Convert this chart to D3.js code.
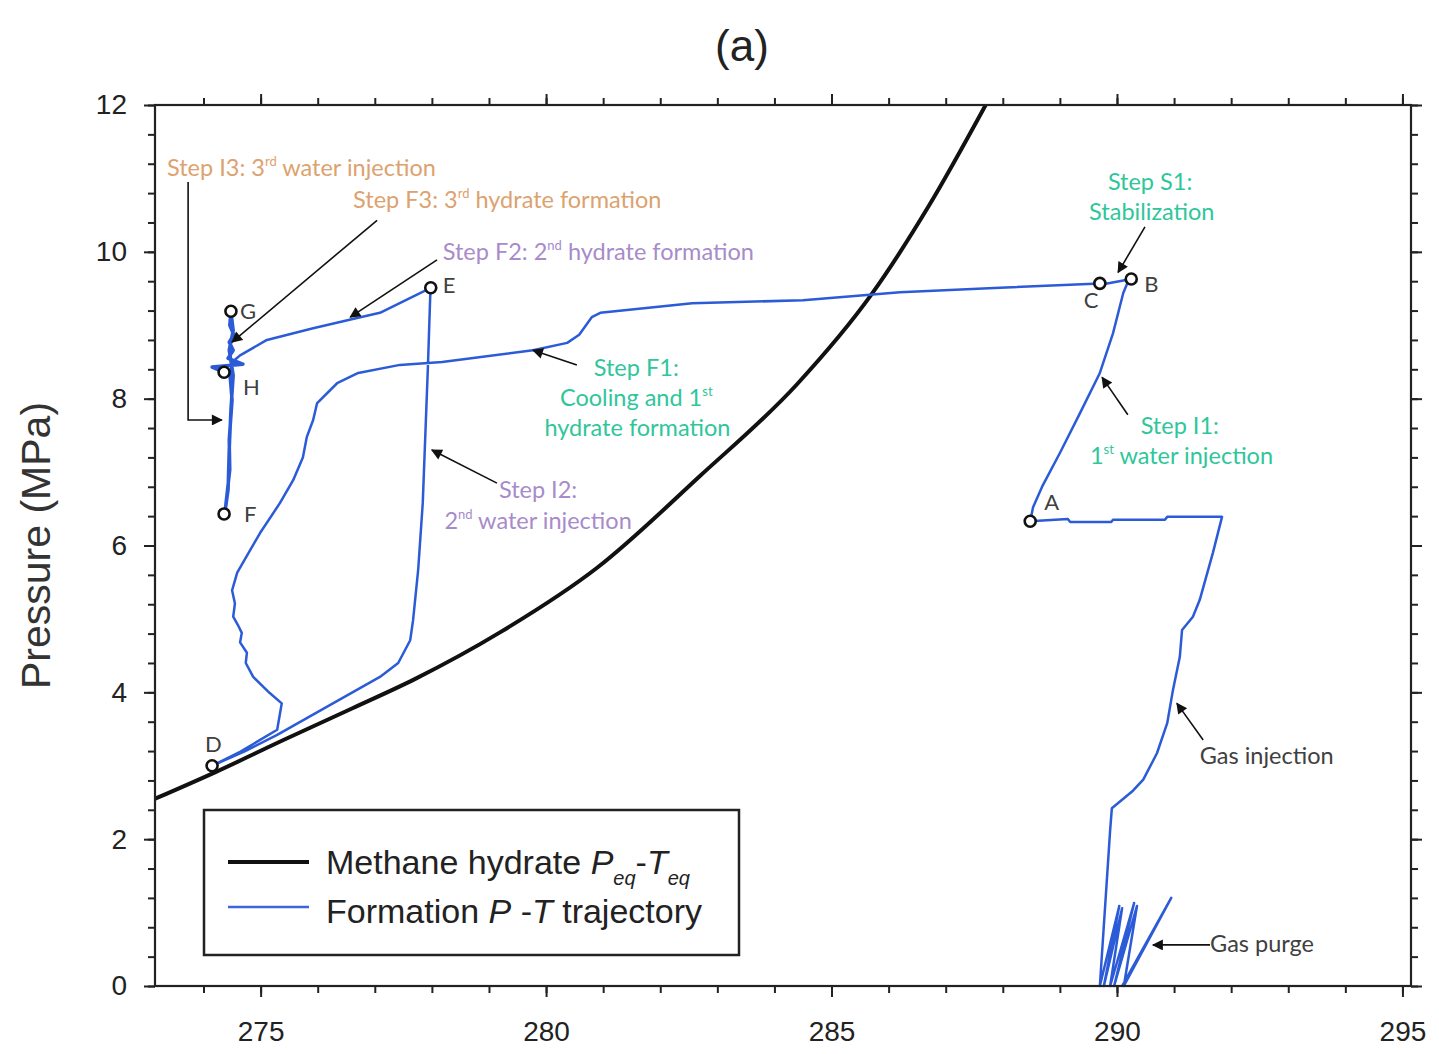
<!DOCTYPE html>
<html>
<head>
<meta charset="utf-8">
<script src="https://cdn.jsdelivr.net/npm/d3@7/dist/d3.min.js"></script>
<style>
  body { margin: 0; background: #fff; }
</style>
</head>
<body>
<div id="chart"></div>
<script>
// Methane hydrate equilibrium curve (K, MPa)
const eqT = [273.15, 274.2, 275.4, 276.6, 277.7, 279.2, 280.9, 282.7, 284.4, 285.7, 286.7, 287.7]
const eqP = [2.55, 2.91, 3.35, 3.78, 4.18, 4.82, 5.70, 6.95, 8.20, 9.42, 10.62, 12.0]

// Formation P-T trajectory, one small array per step
const purgeT = [290.09, 290.95, 290.12, 290.35, 289.95, 290.30, 289.88, 290.09, 289.77, 290.04, 289.70]
const purgeP = [0, 1.20, 0, 1.09, 0, 1.13, 0, 1.06, 0, 1.09, 0]

const gasInjT = [289.88, 289.91, 290.28, 290.46, 290.70, 290.88, 290.98, 291.10, 291.14, 291.33, 291.45, 291.68, 291.84]
const gasInjP = [2.12, 2.42, 2.66, 2.81, 3.17, 3.58, 4.03, 4.48, 4.85, 5.03, 5.26, 5.90, 6.39]

const backT = [290.88, 290.84, 289.93, 289.90, 289.18, 289.14, 288.48]
const backP = [6.39, 6.35, 6.35, 6.32, 6.32, 6.36, 6.33]

const i1T = [288.53, 288.70, 289.00, 289.35, 289.70, 289.93, 290.11, 290.19, 290.25]
const i1P = [6.52, 6.82, 7.26, 7.80, 8.35, 8.89, 9.44, 9.59, 9.63]

const s1T = [289.83, 289.70]
const s1P = [9.57, 9.57]

const f1T = [287.95, 286.20, 284.50, 282.56, 280.95, 280.80, 280.58, 280.37, 279.77, 278.18, 277.44, 276.71, 276.34, 275.99,
  275.92, 275.81, 275.74, 275.57, 275.34, 274.99, 274.59, 274.50, 274.55, 274.52, 274.60, 274.67, 274.64, 274.76, 274.74,
  274.87, 275.16, 275.37, 275.29, 274.64, 274.15]
const f1P = [9.51, 9.45, 9.34, 9.30, 9.17, 9.11, 8.87, 8.76, 8.66, 8.50, 8.46, 8.35, 8.21, 7.94,
  7.71, 7.48, 7.20, 6.89, 6.58, 6.17, 5.63, 5.39, 5.21, 5.03, 4.92, 4.81, 4.68, 4.54, 4.40,
  4.21, 3.99, 3.85, 3.49, 3.19, 3.00]

const i2T = [274.73, 275.29, 276.22, 277.09, 277.41, 277.62, 277.67, 277.76, 277.84, 277.93, 277.97, 277.98]
const i2P = [3.20, 3.42, 3.83, 4.21, 4.40, 4.71, 4.98, 5.67, 6.58, 8.43, 9.38, 9.51]

const f2T = [277.09, 276.69, 275.92, 275.11, 274.64, 274.55]
const f2P = [9.17, 9.10, 8.96, 8.80, 8.59, 8.53]

const f3T = [274.46, 274.50, 274.45, 274.46, 274.41, 274.38, 274.43, 274.45, 274.48, 274.52, 274.45, 274.52, 274.48,
  274.46, 274.53, 274.45, 274.52, 274.43, 274.69, 274.15, 274.36]
const f3P = [8.36, 7.98, 7.44, 7.03, 6.69, 6.48, 6.76, 7.30, 7.85, 8.32, 8.66, 8.93, 9.18,
  9.00, 8.87, 8.77, 8.66, 8.55, 8.47, 8.43, 8.36]

// labelled states
const pointNames = ['A', 'B', 'C', 'D', 'E', 'F', 'G', 'H']
const pointT = [288.48, 290.25, 289.70, 274.15, 277.98, 274.36, 274.48, 274.36]
const pointP = [6.33, 9.63, 9.57, 3.00, 9.51, 6.43, 9.19, 8.36]

const xTicks = [275, 280, 285, 290, 295]
const yTicks = [0, 2, 4, 6, 8, 10, 12]

const margin = { top: 105, left: 155, right: 28, bottom: 68 }
const width = 1439 - margin.left - margin.right
const height = 1054 - margin.top - margin.bottom

const blue = '#2b5bd7'
const tan = '#dca26f'
const purple = '#a78bca'
const green = '#2fc69b'
const grey = '#404040'

const svg = d3
  .select('#chart')
  .append('svg')
  .attr('width', width + margin.left + margin.right)
  .attr('height', height + margin.top + margin.bottom)
  .append('g')
  .attr('transform', 'translate(' + margin.left + ',' + margin.top + ')')

const xPositionScale = d3.scaleLinear().domain([273.15, 295.15]).range([0, width])
const yPositionScale = d3.scaleLinear().domain([0, 12]).range([height, 0])

svg.append('defs')
  .append('clipPath')
  .attr('id', 'plot-clip')
  .append('rect')
  .attr('width', width)
  .attr('height', height)

const arrowHead = svg.select('defs')
  .append('marker')
  .attr('id', 'head')
  .attr('viewBox', '0 0 10 10')
  .attr('refX', 9)
  .attr('refY', 5)
  .attr('markerWidth', 15)
  .attr('markerHeight', 11)
  .attr('markerUnits', 'userSpaceOnUse')
  .attr('orient', 'auto')
arrowHead.append('path').attr('d', 'M0,0 L10,5 L0,10 z').attr('fill', '#111')

const line = d3
  .line()
  .x(d => xPositionScale(d[0]))
  .y(d => yPositionScale(d[1]))

const zip = (ts, ps) => ts.map((t, i) => [t, ps[i]])

// equilibrium curve
svg.append('path')
  .datum(zip(eqT, eqP))
  .attr('clip-path', 'url(#plot-clip)')
  .attr('fill', 'none')
  .attr('stroke', '#111')
  .attr('stroke-width', 4)
  .attr('d', line.curve(d3.curveMonotoneX))

line.curve(d3.curveLinear)

// trajectory
const trajectory = [].concat(
  zip(purgeT, purgeP),
  zip(gasInjT, gasInjP),
  zip(backT, backP),
  zip(i1T, i1P),
  zip(s1T, s1P),
  zip(f1T, f1P),
  zip(i2T, i2P),
  zip(f2T, f2P)
)

svg.append('path')
  .datum(trajectory)
  .attr('fill', 'none')
  .attr('stroke', blue)
  .attr('stroke-width', 2.5)
  .attr('stroke-linejoin', 'round')
  .attr('d', line)

svg.append('path')
  .datum([[f2T[f2T.length - 1], f2P[f2P.length - 1]]].concat(zip(f3T, f3P)))
  .attr('fill', 'none')
  .attr('stroke', blue)
  .attr('stroke-width', 3.5)
  .attr('stroke-linejoin', 'round')
  .attr('d', line)

// axes: minor + major ticks on all four sides
const axisColor = '#222'
function styleAxis (g) {
  g.select('.domain').remove()
  g.selectAll('line').attr('stroke', axisColor).attr('stroke-width', 2)
  g.selectAll('text')
    .attr('fill', axisColor)
    .attr('font-family', 'Liberation Sans, Arial, sans-serif')
    .attr('font-size', 28)
}

const xMinor = d3.range(274, 296)
const yMinor = d3.range(0, 12.01, 0.4)

svg.append('g').attr('transform', 'translate(0,' + height + ')')
  .call(d3.axisBottom(xPositionScale).tickValues(xMinor).tickSize(7).tickFormat(''))
  .call(styleAxis)
svg.append('g').attr('transform', 'translate(0,' + height + ')')
  .call(d3.axisBottom(xPositionScale).tickValues(xTicks).tickSize(11).tickPadding(24).tickFormat(d3.format('d')))
  .call(styleAxis)
svg.append('g')
  .call(d3.axisTop(xPositionScale).tickValues(xMinor).tickSize(7).tickFormat(''))
  .call(styleAxis)
svg.append('g')
  .call(d3.axisTop(xPositionScale).tickValues(xTicks).tickSize(11).tickFormat(''))
  .call(styleAxis)

svg.append('g')
  .call(d3.axisLeft(yPositionScale).tickValues(yMinor).tickSize(7).tickFormat(''))
  .call(styleAxis)
svg.append('g')
  .call(d3.axisLeft(yPositionScale).tickValues(yTicks).tickSize(11).tickPadding(17).tickFormat(d3.format('d')))
  .call(styleAxis)
svg.append('g').attr('transform', 'translate(' + width + ',0)')
  .call(d3.axisRight(yPositionScale).tickValues(yMinor).tickSize(7).tickFormat(''))
  .call(styleAxis)
svg.append('g').attr('transform', 'translate(' + width + ',0)')
  .call(d3.axisRight(yPositionScale).tickValues(yTicks).tickSize(11).tickFormat(''))
  .call(styleAxis)

svg.append('rect')
  .attr('width', width)
  .attr('height', height)
  .attr('fill', 'none')
  .attr('stroke', axisColor)
  .attr('stroke-width', 2.2)

// axis title + panel title
svg.append('text')
  .attr('transform', 'rotate(-90)')
  .attr('x', -height / 2)
  .attr('y', -105)
  .attr('text-anchor', 'middle')
  .attr('font-family', 'Liberation Sans, Arial, sans-serif')
  .attr('font-size', 41)
  .attr('fill', '#333')
  .text('Pressure (MPa)')

svg.append('text')
  .attr('x', 587)
  .attr('y', -44)
  .attr('text-anchor', 'middle')
  .attr('font-family', 'Liberation Sans, Arial, sans-serif')
  .attr('font-size', 44)
  .attr('fill', '#222')
  .text('(a)')

// annotation arrows (data coords)
const arrows = [
  [[277.04, 10.43], [274.50, 8.77]],
  [[278.09, 9.89], [276.57, 9.11]],
  [[280.54, 8.46], [279.77, 8.66]],
  [[279.14, 6.85], [278.00, 7.30]],
  [[290.49, 10.34], [290.02, 9.72]],
  [[290.19, 7.78], [289.74, 8.29]],
  [[291.51, 3.35], [291.05, 3.85]],
  [[291.63, 0.56], [290.63, 0.56]],
  [[273.73, 10.95], [273.73, 7.71], [274.32, 7.71]]
]

svg.append('g')
  .selectAll('path')
  .data(arrows)
  .enter().append('path')
  .attr('d', line)
  .attr('fill', 'none')
  .attr('stroke', '#111')
  .attr('stroke-width', 1.6)
  .attr('marker-end', 'url(#head)')

// annotation texts
const noteFont = 'Lato, Carlito, Calibri, sans-serif'
const noteSize = 23.5
const notes = [
  { T: 273.36, P: 11.03, anchor: 'start', color: tan, parts: [['Step I3: 3'], ['rd', 1], [' water injection']] },
  { T: 276.62, P: 10.60, anchor: 'start', color: tan, parts: [['Step F3: 3'], ['rd', 1], [' hydrate formation']] },
  { T: 278.19, P: 9.89, anchor: 'start', color: purple, parts: [['Step F2: 2'], ['nd', 1], [' hydrate formation']] },
  { T: 290.58, P: 10.84, anchor: 'middle', color: green, parts: [['Step S1:']] },
  { T: 290.61, P: 10.43, anchor: 'middle', color: green, parts: [['Stabilization']] },
  { T: 281.58, P: 8.31, anchor: 'middle', color: green, parts: [['Step F1:']] },
  { T: 281.58, P: 7.90, anchor: 'middle', color: green, parts: [['Cooling and 1'], ['st', 1]] },
  { T: 281.60, P: 7.49, anchor: 'middle', color: green, parts: [['hydrate formation']] },
  { T: 291.10, P: 7.52, anchor: 'middle', color: green, parts: [['Step I1:']] },
  { T: 291.13, P: 7.11, anchor: 'middle', color: green, parts: [['1'], ['st', 1], [' water injection']] },
  { T: 279.86, P: 6.65, anchor: 'middle', color: purple, parts: [['Step I2:']] },
  { T: 279.86, P: 6.22, anchor: 'middle', color: purple, parts: [['2'], ['nd', 1], [' water injection']] },
  { T: 291.45, P: 3.02, anchor: 'start', color: grey, parts: [['Gas injection']] },
  { T: 291.63, P: 0.46, anchor: 'start', color: grey, parts: [['Gas purge']] }
]

notes.forEach(n => {
  const t = svg.append('text')
    .attr('x', xPositionScale(n.T))
    .attr('y', yPositionScale(n.P))
    .attr('text-anchor', n.anchor)
    .attr('font-family', noteFont)
    .attr('font-size', noteSize)
    .attr('fill', n.color)
  let raised = false
  n.parts.forEach(p => {
    const span = t.append('tspan').text(p[0])
    if (p[1]) {
      span.attr('font-size', 13).attr('dy', -10)
      raised = true
    } else if (raised) {
      span.attr('dy', 10)
      raised = false
    }
  })
})

// state markers + letters
const labelOffsets = [[14, -11], [13, 13], [-16, 25], [-7, -14], [12, 5], [20, 8], [9, 8], [19, 23]]

svg.append('g')
  .selectAll('text')
  .data(pointNames)
  .enter().append('text')
  .attr('x', (d, i) => xPositionScale(pointT[i]) + labelOffsets[i][0])
  .attr('y', (d, i) => yPositionScale(pointP[i]) + labelOffsets[i][1])
  .attr('font-family', noteFont)
  .attr('font-size', 22)
  .attr('fill', grey)
  .text(d => d)

svg.append('g')
  .selectAll('circle')
  .data(pointNames)
  .enter().append('circle')
  .attr('cx', (d, i) => xPositionScale(pointT[i]))
  .attr('cy', (d, i) => yPositionScale(pointP[i]))
  .attr('r', 5.5)
  .attr('fill', '#fff')
  .attr('stroke', '#111')
  .attr('stroke-width', 2.6)

// legend
const legend = svg.append('g').attr('transform', 'translate(49,705)')
legend.append('rect')
  .attr('width', 535)
  .attr('height', 145)
  .attr('fill', '#fff')
  .attr('stroke', '#222')
  .attr('stroke-width', 2.5)

legend.append('line')
  .attr('x1', 24).attr('x2', 105).attr('y1', 52).attr('y2', 52)
  .attr('stroke', '#111').attr('stroke-width', 4)
legend.append('line')
  .attr('x1', 24).attr('x2', 105).attr('y1', 97).attr('y2', 97)
  .attr('stroke', '#3f66d8').attr('stroke-width', 2.5)

const legendText = [
  [['Methane hydrate '], ['P', 'i'], ['eq', 's'], ['-'], ['T', 'i'], ['eq', 's']],
  [['Formation '], ['P', 'i'], [' -'], ['T', 'i'], [' trajectory']]
]
legendText.forEach((parts, row) => {
  const t = legend.append('text')
    .attr('x', 122)
    .attr('y', 64 + row * 49)
    .attr('font-family', 'Liberation Sans, Arial, sans-serif')
    .attr('font-size', 34)
    .attr('fill', '#222')
  let lowered = false
  parts.forEach(p => {
    const span = t.append('tspan').text(p[0])
    if (p[1] === 'i') span.attr('font-style', 'italic')
    if (p[1] === 's') {
      span.attr('font-style', 'italic').attr('font-size', 20).attr('dy', lowered ? 0 : 11)
      lowered = true
    } else if (lowered) {
      span.attr('dy', -11)
      lowered = false
    }
  })
})
</script>
</body>
</html>
